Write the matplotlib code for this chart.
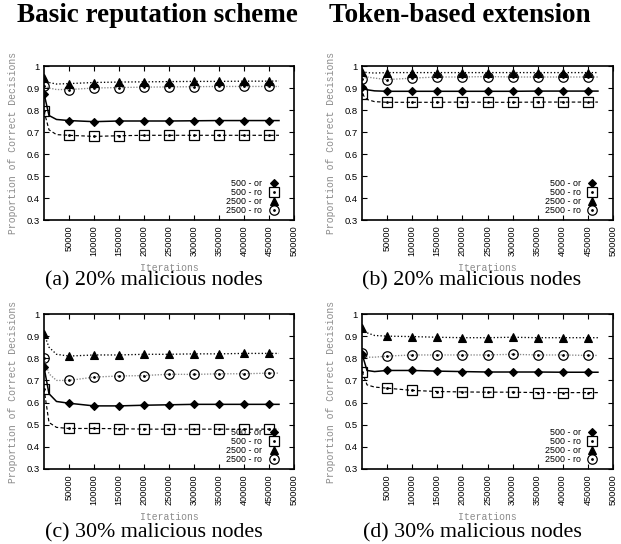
import matplotlib
matplotlib.use("Agg")
import matplotlib.pyplot as plt
from matplotlib.lines import Line2D
from matplotlib.legend_handler import HandlerTuple

# ---------------- data ----------------
iters = [0, 10000, 25000, 50000, 100000, 150000, 200000, 250000,
         300000, 350000, 400000, 450000, 470000]
marker_idx = [0, 3, 4, 5, 6, 7, 8, 9, 10, 11]

xticks = [50000, 100000, 150000, 200000, 250000, 300000, 350000, 400000, 450000, 500000]
yticks = [0.3, 0.4, 0.5, 0.6, 0.7, 0.8, 0.9, 1.0]
ytick_labels = ["0.3", "0.4", "0.5", "0.6", "0.7", "0.8", "0.9", "1"]

series_labels = ["500 - or", "500 - ro", "2500 - or", "2500 - ro"]

# (a) basic reputation, 20% malicious
a_or500 = [0.875, 0.775, 0.757, 0.752, 0.747, 0.750, 0.750, 0.750, 0.751, 0.752, 0.752, 0.752, 0.752]
a_ro500 = [0.795, 0.710, 0.688, 0.685, 0.680, 0.683, 0.685, 0.685, 0.685, 0.685, 0.685, 0.685, 0.685]
a_or2500 = [0.945, 0.925, 0.918, 0.920, 0.925, 0.927, 0.928, 0.929, 0.930, 0.930, 0.931, 0.931, 0.932]
a_ro2500 = [0.910, 0.900, 0.893, 0.893, 0.900, 0.902, 0.904, 0.905, 0.906, 0.907, 0.907, 0.907, 0.907]

# (b) token-based, 20% malicious
b_or500 = [0.905, 0.892, 0.887, 0.885, 0.885, 0.885, 0.885, 0.885, 0.885, 0.886, 0.886, 0.886, 0.886]
b_ro500 = [0.873, 0.848, 0.838, 0.835, 0.835, 0.835, 0.836, 0.835, 0.835, 0.836, 0.836, 0.836, 0.836]
b_or2500 = [0.975, 0.970, 0.968, 0.970, 0.970, 0.970, 0.970, 0.970, 0.970, 0.970, 0.970, 0.970, 0.970]
b_ro2500 = [0.940, 0.950, 0.945, 0.938, 0.945, 0.950, 0.950, 0.952, 0.950, 0.950, 0.950, 0.950, 0.950]

# (c) basic reputation, 30% malicious
c_or500 = [0.760, 0.640, 0.605, 0.597, 0.585, 0.585, 0.588, 0.590, 0.592, 0.592, 0.592, 0.592, 0.592]
c_ro500 = [0.663, 0.510, 0.488, 0.483, 0.483, 0.482, 0.480, 0.480, 0.480, 0.480, 0.480, 0.480, 0.480]
c_or2500 = [0.910, 0.850, 0.818, 0.810, 0.815, 0.815, 0.818, 0.818, 0.820, 0.820, 0.822, 0.822, 0.822]
c_ro2500 = [0.800, 0.730, 0.700, 0.700, 0.715, 0.720, 0.722, 0.728, 0.727, 0.730, 0.730, 0.733, 0.733]

# (d) token-based, 30% malicious
d_or500 = [0.820, 0.745, 0.740, 0.745, 0.745, 0.742, 0.740, 0.738, 0.738, 0.738, 0.737, 0.737, 0.737]
d_ro500 = [0.740, 0.680, 0.670, 0.665, 0.655, 0.650, 0.648, 0.647, 0.647, 0.645, 0.645, 0.645, 0.645]
d_or2500 = [0.935, 0.915, 0.903, 0.900, 0.898, 0.895, 0.893, 0.893, 0.895, 0.893, 0.893, 0.893, 0.893]
d_ro2500 = [0.825, 0.805, 0.805, 0.810, 0.815, 0.815, 0.815, 0.815, 0.818, 0.815, 0.815, 0.813, 0.813]

column_titles = ["Basic reputation scheme", "Token-based extension"]
captions = ["(a) 20% malicious nodes", "(b) 20% malicious nodes",
            "(c) 30% malicious nodes", "(d) 30% malicious nodes"]

# ---------------- styling ----------------
W, H = 621, 544
fig = plt.figure(figsize=(W / 100, H / 100), dpi=100)

mono = "Liberation Mono"
sans = "Liberation Sans"
serif = "Liberation Serif"
grey_lbl = "#8a8a8a"

styles = [
    dict(color="black", ls="-", lw=1.1, marker="D", ms=4.3, mfc="black", mec="black"),
    dict(color="black", ls=(0, (3, 2)), lw=0.85, marker="s", ms=6.8, mfc="none", mec="black", mew=0.9),
    dict(color="black", ls=(0, (1, 1.6)), lw=0.95, marker="^", ms=5.2, mfc="black", mec="black"),
    dict(color="#888888", ls=(0, (1, 1.2)), lw=0.95, marker="o", ms=6.8, mfc="none", mec="black", mew=0.9),
]
dotted_center = [False, True, False, True]

def px_axes(left, top, right, bottom):
    return fig.add_axes([left / W, 1 - bottom / H, (right - left) / W, (bottom - top) / H])

panels = [
    (px_axes(44, 66, 294, 220), [a_or500, a_ro500, a_or2500, a_ro2500]),
    (px_axes(362, 66, 613, 220), [b_or500, b_ro500, b_or2500, b_ro2500]),
    (px_axes(44, 314, 294, 469), [c_or500, c_ro500, c_or2500, c_ro2500]),
    (px_axes(362, 314, 613, 469), [d_or500, d_ro500, d_or2500, d_ro2500]),
]

for ax, series in panels:
    handles = []
    for ys, st, dot, lab in zip(series, styles, dotted_center, series_labels):
        ax.plot(iters, ys, color=st["color"], ls=st["ls"], lw=st["lw"], zorder=2)
        mx = [iters[i] for i in marker_idx]
        my = [ys[i] for i in marker_idx]
        ax.plot(mx, my, ls="none", marker=st["marker"], ms=st["ms"], mfc=st["mfc"],
                mec=st["mec"], mew=st.get("mew", 0.8), zorder=3)
        h1 = Line2D([], [], ls="none", marker=st["marker"], ms=st["ms"], mfc=st["mfc"],
                    mec=st["mec"], mew=st.get("mew", 0.8))
        if dot:
            ax.plot(mx, my, ls="none", marker="o", ms=1.0, color="black", zorder=4)
            h2 = Line2D([], [], ls="none", marker="o", ms=1.0, color="black")
            handles.append((h1, h2))
        else:
            handles.append(h1)
    ax.set_xlim(0, 500000)
    ax.set_ylim(0.3, 1.0)
    ax.set_xticks(xticks)
    ax.set_xticklabels([str(v) for v in xticks], rotation=90, fontsize=6.6,
                       family=sans, va="top")
    ax.set_yticks(yticks)
    ax.set_yticklabels(ytick_labels, fontsize=6.8, family=sans)
    ax.tick_params(direction="in", top=True, right=True, length=3.5, width=0.8, pad=3)
    ax.tick_params(axis="x", pad=4)
    for sp in ax.spines.values():
        sp.set_linewidth(1.2)
    ax.set_xlabel("Iterations", family=mono, fontsize=7, color=grey_lbl)
    ax.xaxis.set_label_coords(0.5, -43 / 154)
    ax.set_ylabel("Proportion of Correct Decisions", family=mono, fontsize=7,
                  color=grey_lbl, labelpad=6)
    ax.legend(handles, series_labels, loc="lower right", markerfirst=False,
              bbox_to_anchor=(0.936, 0.03), borderaxespad=0, borderpad=0,
              frameon=False, prop={"family": sans, "size": 6.4},
              handlelength=1.0, handletextpad=0.75, labelspacing=0.0,
              handler_map={tuple: HandlerTuple(ndivide=1, pad=0)})

# column titles
fig.text(157 / W, 1 - 15 / H, column_titles[0], family=serif, weight="bold",
         fontsize=19.5, ha="center", va="center")
fig.text(460 / W, 1 - 15 / H, column_titles[1], family=serif, weight="bold",
         fontsize=19.5, ha="center", va="center")

# captions
cap_pos = [(154, 281), (472, 281), (154, 533), (472, 533)]
for (cx, cy), txt in zip(cap_pos, captions):
    fig.text(cx / W, 1 - cy / H, txt, family=serif, fontsize=15.8,
             ha="center", va="center")

fig.savefig("out.png", dpi=100)
